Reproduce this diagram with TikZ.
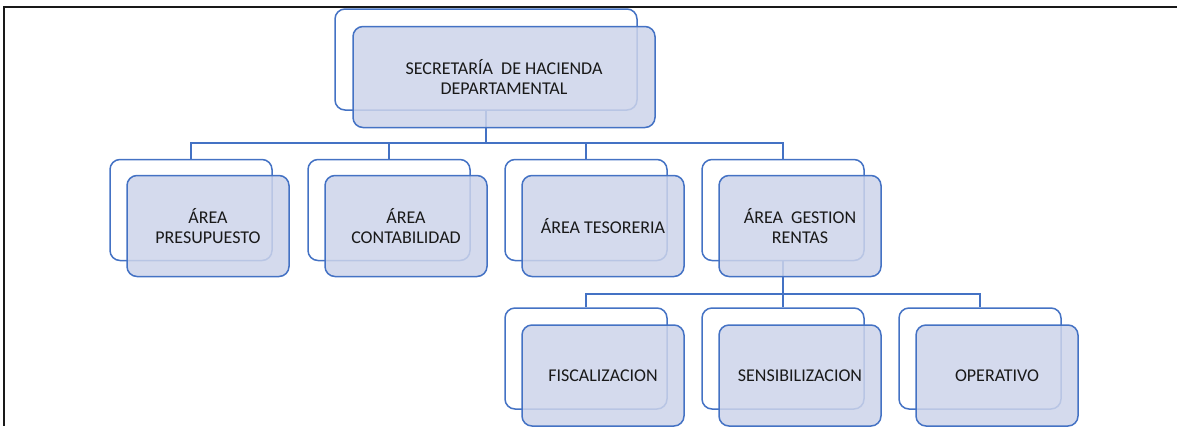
\documentclass[tikz,border=0pt]{standalone}
\usepackage{fontspec}
\setmainfont{Carlito}
\definecolor{boxline}{RGB}{68,114,196}
\definecolor{boxfill}{RGB}{205,212,234}
\tikzstyle{back}=[draw=boxline, fill=white, line width=1.5pt, rounded corners=10pt, shape=rectangle, minimum width=162pt, minimum height=101pt]
\tikzstyle{front}=[back, fill=boxfill, fill opacity=0.85, text opacity=1, text=black!90, align=center, font=\fontsize{18}{20}\selectfont]
\tikzstyle{wide}=[minimum width=302pt]
\tikzstyle{link}=[-, draw=boxline, line width=1.5pt]

\begin{document}
\begin{tikzpicture}[x=1pt, y=-1pt]
	\useasboundingbox (0,0) rectangle (1177,426);
	\draw [line width=1.6pt, black!90] (1177,7) -- (4,7) -- (4,426);
	\node [style=back, style=wide] (10) at (486, 59.5) {};
	\node [style=back] (11) at (191, 210) {};
	\node [style=back] (12) at (389, 210) {};
	\node [style=back] (13) at (586, 210) {};
	\node [style=back] (14) at (783, 210) {};
	\node [style=back] (15) at (586, 358.5) {};
	\node [style=back] (16) at (783, 358.5) {};
	\node [style=back] (17) at (980, 358.5) {};
	\coordinate (bus0) at (0, 143);
	\coordinate (bus1) at (0, 294);
	\draw [style=link] (10.south) -- (10.south |- bus0) -| (11.north);
	\draw [style=link] (10.south |- bus0) -| (12.north);
	\draw [style=link] (10.south |- bus0) -| (13.north);
	\draw [style=link] (10.south |- bus0) -| (14.north);
	\draw [style=link] (14.south) -- (14.south |- bus1) -| (15.north);
	\draw [style=link] (14.south |- bus1) -- (16.north);
	\draw [style=link] (14.south |- bus1) -| (17.north);
	\node [style=front, style=wide] (0) at (504, 77) {SECRETARÍA~ DE HACIENDA\\DEPARTAMENTAL};
	\node [style=front] (1) at (208, 226) {ÁREA\\PRESUPUESTO};
	\node [style=front] (2) at (406, 226) {ÁREA\\CONTABILIDAD};
	\node [style=front] (3) at (603, 226) {ÁREA TESORERIA};
	\node [style=front] (4) at (800, 226) {ÁREA~ GESTION\\RENTAS};
	\node [style=front] (5) at (603, 375.5) {FISCALIZACION};
	\node [style=front] (6) at (800, 375.5) {SENSIBILIZACION};
	\node [style=front] (7) at (997, 375.5) {OPERATIVO};
\end{tikzpicture}
\end{document}
